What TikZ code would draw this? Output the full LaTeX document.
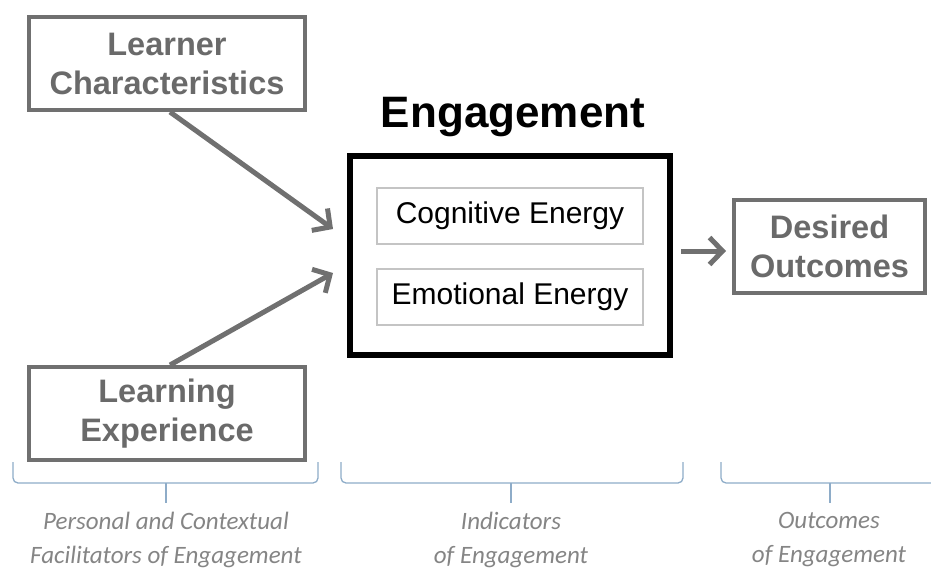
\documentclass[tikz,border=0pt]{standalone}
\usepackage{fontspec}
\setmainfont{Liberation Sans}
\newfontfamily\labelfont{Carlito}
\usetikzlibrary{arrows.meta}
\definecolor{boxgray}{HTML}{707070}
\definecolor{txtgray}{HTML}{6A6A6A}
\definecolor{lblgray}{HTML}{858585}
\definecolor{bracecol}{HTML}{8EACC8}
\definecolor{innergray}{HTML}{C4C4C4}
\tikzset{
  factorbox/.style={draw=boxgray, line width=4.5pt, text=txtgray, font=\fontsize{32.5}{39}\selectfont\bfseries, align=center, inner sep=0pt},
  innerbox/.style={draw=innergray, line width=1.2pt, font=\fontsize{30}{34}\selectfont, inner sep=0pt},
  flowarrow/.style={draw=boxgray, line width=5pt, -{Straight Barb[length=13pt,width=27pt]}},
  bracepath/.style={draw=bracecol, line width=1.3pt, rounded corners=5pt},
  bracelabel/.style={text=lblgray, font=\labelfont\itshape\fontsize{25}{34}\selectfont, align=center, anchor=north}
}
\begin{document}
\begin{tikzpicture}[x=1pt,y=-1pt]
\useasboundingbox (0,0) rectangle (931,570);
% factor boxes
\node[factorbox, minimum width=276pt, minimum height=93pt] (lc) at (167,63.5) {Learner\\Characteristics};
\node[factorbox, minimum width=276pt, minimum height=93pt] (le) at (167,413.5) {Learning\\Experience};
\node[factorbox, minimum width=191pt, minimum height=93pt] (do) at (829.5,246.5) {Desired\\Outcomes};
% engagement
\node[draw=black, line width=6pt, minimum width=320pt, minimum height=199pt, inner sep=0pt] (eng) at (510,255.5) {};
\node[font=\fontsize{44}{50}\selectfont\bfseries, anchor=base] (title) at (513,127) {Engagement};
\node[innerbox, minimum width=266pt, minimum height=56pt] (cog) at (510,216) {Cognitive Energy};
\node[innerbox, minimum width=266pt, minimum height=56pt] (emo) at (510,297) {Emotional Energy};
% arrows
\coordinate (t1) at (333,229);
\coordinate (t2) at (333,273);
\coordinate (s3) at (681,251);
\coordinate (t3) at (726,251);
\draw[flowarrow] (170,112) -- (t1);
\draw[flowarrow] (170,365) -- (t2);
\draw[flowarrow] (s3) -- (t3);
% braces
\draw[bracepath] (13,462) -- (13,483) -- (318,483) -- (318,462);
\draw[bracecol, line width=1.3pt] (166,483) -- (166,503);
\draw[bracepath] (341,462) -- (341,483) -- (683,483) -- (683,462);
\draw[bracecol, line width=1.3pt] (511,483) -- (511,503);
\draw[bracepath] (721,462) -- (721,483) -- (935,483);
\draw[bracecol, line width=1.3pt] (830,483) -- (830,503);
% labels
\node[bracelabel] (l1) at (166,509) {Personal and Contextual\\Facilitators of Engagement};
\node[bracelabel] (l2) at (511,509) {Indicators\\of Engagement};
\node[bracelabel] (l3) at (829,509) {Outcomes\\of Engagement};
\end{tikzpicture}
\end{document}
